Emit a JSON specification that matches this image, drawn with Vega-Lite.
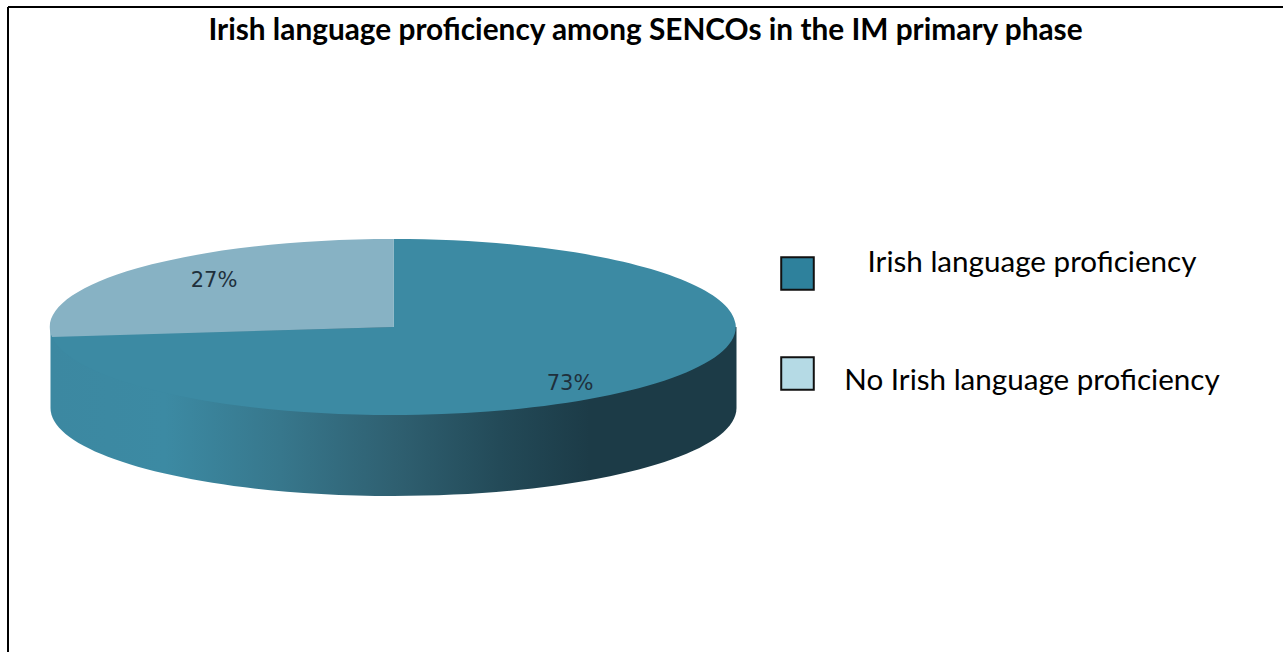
{
  "$schema": "https://vega.github.io/schema/vega-lite/v6.json",
  "width": 1275,
  "height": 645,
  "autosize": {"type": "none"},
  "padding": {"left": 8, "top": 7, "right": 0, "bottom": 0},
  "background": "white",
  "view": {"stroke": null},
  "title": {
    "text": "Irish language proficiency among SENCOs in the IM primary phase",
    "font": "Lato", "fontSize": 29.8, "fontWeight": "bold", "color": "black",
    "anchor": "middle", "frame": "group", "offset": -39
  },
  "data": {"values": [
    {"category": "Irish language proficiency", "share": 73},
    {"category": "No Irish language proficiency", "share": 27}
  ]},
  "layer": [
    {
      "transform": [{"filter": "datum.share == 73"}],
      "mark": {
        "type": "point", "filled": true, "size": 4, "opacity": 1, "strokeWidth": 0,
        "shape": "M-343 0 L-343 81 A343 88 0 0 0 343 81 L343 0 Z",
        "fill": {"gradient": "linear", "x1": 0, "y1": 0, "x2": 1, "y2": 0, "stops": [
          {"offset": 0, "color": "#3c88a1"},
          {"offset": 0.167, "color": "#3c8aa3"},
          {"offset": 0.335, "color": "#37778c"},
          {"offset": 0.5, "color": "#2f6071"},
          {"offset": 0.655, "color": "#234a58"},
          {"offset": 0.786, "color": "#1c3b47"},
          {"offset": 1, "color": "#1c3b47"}
        ]}
      },
      "encoding": {
        "x": {"datum": 0, "type": "quantitative", "scale": {"domain": [-385.5, 889.5], "range": [0, 1275]},
          "axis": {"orient": "top", "domain": true, "domainColor": "black", "domainWidth": 2, "ticks": false, "labels": false, "grid": false, "title": null, "translate": 0}},
        "y": {"datum": 0, "type": "quantitative", "scale": {"domain": [-320, 325], "range": [0, 645]},
          "axis": {"orient": "left", "domain": true, "domainColor": "black", "domainWidth": 2, "ticks": false, "labels": false, "grid": false, "title": null, "translate": 0}}
      }
    },
    {
      "mark": {"type": "point", "filled": true, "size": 4, "opacity": 1, "strokeWidth": 0},
      "encoding": {
        "x": {"datum": 0, "type": "quantitative", "scale": {"domain": [-385.5, 889.5], "range": [0, 1275]}, "axis": null},
        "y": {"datum": 0, "type": "quantitative", "scale": {"domain": [-320, 325], "range": [0, 645]}, "axis": null},
        "color": {"field": "category", "type": "nominal", "legend": null,
          "scale": {"domain": ["No Irish language proficiency", "Irish language proficiency"], "range": ["#87b2c4", "#3c8aa3"]}},
        "shape": {"field": "category", "type": "nominal", "legend": null,
          "scale": {"domain": ["No Irish language proficiency", "Irish language proficiency"], "range": [
            "M0 0 L0 -88 A343 88 0 0 0 -341.5 10 Z",
            "M0 0 L-341.5 10 A343 88 0 1 0 0 -88 Z"
          ]}}
      }
    },
    {
      "transform": [{"calculate": "datum.share + '%'", "as": "pct"}],
      "mark": {"type": "text", "font": "DejaVu Sans", "fontSize": 21, "color": "#1f303c", "baseline": "middle", "align": "center"},
      "encoding": {
        "x": {"field": "share", "type": "quantitative", "scale": {"domain": [27, 73], "range": [206, 562]}, "axis": null},
        "y": {"field": "share", "type": "quantitative", "scale": {"domain": [27, 73], "range": [274, 377]}, "axis": null},
        "text": {"field": "pct", "type": "nominal"}
      }
    },
    {
      "mark": {"type": "point", "filled": true, "size": 0, "opacity": 1},
      "encoding": {
        "x": {"datum": 0, "type": "quantitative", "scale": {"domain": [-385.5, 889.5], "range": [0, 1275]}, "axis": null},
        "y": {"datum": 0, "type": "quantitative", "scale": {"domain": [-320, 325], "range": [0, 645]}, "axis": null},
        "fill": {"field": "category", "type": "nominal",
          "scale": {"domain": ["Irish language proficiency", "No Irish language proficiency"], "range": ["#2e819c", "#b5dae5"]},
          "legend": {
            "orient": "none", "legendX": 772, "legendY": 249, "title": null,
            "symbolType": "square", "symbolSize": 1060, "symbolStrokeColor": "#111111", "symbolStrokeWidth": 2, "symbolOpacity": 1,
            "labelFont": "Lato", "labelFontSize": 29.6, "labelColor": "black", "labelLimit": 600,
            "labelAlign": "center", "labelOffset": 217, "rowPadding": 59,
            "encode": {"labels": {"update": {"dy": {"signal": "datum.index === 0 ? -11 : 7"}}}}
          }}
      }
    }
  ],
  "resolve": {"scale": {"x": "independent", "y": "independent"}},
  "config": {"style": {"cell": {"stroke": null}}}
}
